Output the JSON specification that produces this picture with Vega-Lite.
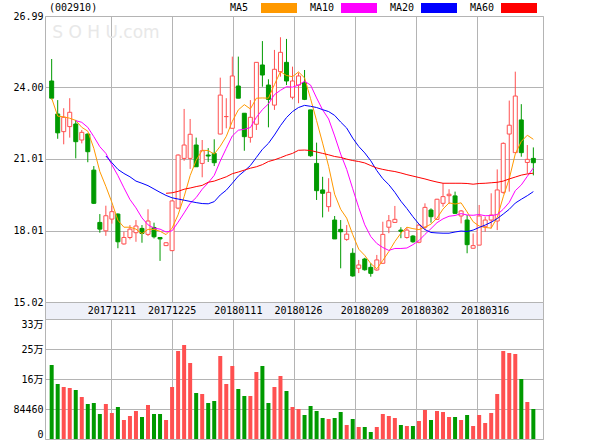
{
  "$schema": "https://vega.github.io/schema/vega-lite/v6.json",
  "background": "#ffffff",
  "padding": {"left": 4, "top": 2, "right": 0, "bottom": 0},
  "spacing": 0,
  "bounds": "flush",
  "resolve": {"scale": {"x": "shared", "y": "independent"}},
  "config": {
    "font": "DejaVu Sans Mono",
    "view": {"stroke": "#b4b4b4", "strokeWidth": 1},
    "axis": {"labelFont": "DejaVu Sans Mono, Noto Sans CJK SC", "labelFontSize": 10, "labelColor": "#000000", "gridColor": "#b4b4b4", "gridOpacity": 1, "gridWidth": 1, "domain": false, "ticks": false, "tickSize": 0}
  },
  "data": {"values": [
{"i":0,"o":24.27,"h":25.19,"l":23.5,"c":23.55,"v":208310,"MA5":23.55},
{"i":1,"o":22.89,"h":23.47,"l":21.85,"c":22.1,"v":154825,"MA5":22.8},
{"i":2,"o":22.15,"h":23.13,"l":21.62,"c":22.75,"v":146380,"MA5":22.77},
{"i":3,"o":22.36,"h":23.55,"l":21.9,"c":22.96,"v":143565,"MA5":22.71},
{"i":4,"o":22.47,"h":22.64,"l":21.03,"c":21.73,"v":137935,"MA5":22.62,"MA10":22.61},
{"i":5,"o":21.8,"h":22.22,"l":21.66,"c":22.12,"v":118230,"MA5":22.33,"MA10":22.54},
{"i":6,"o":22.05,"h":22.07,"l":20.87,"c":21.31,"v":98525,"MA5":22.17,"MA10":22.33},
{"i":7,"o":20.54,"h":20.71,"l":19.12,"c":19.15,"v":101340,"MA5":21.45,"MA10":21.94},
{"i":8,"o":18.35,"h":18.7,"l":17.92,"c":18.07,"v":70375,"MA5":20.48,"MA10":21.52},
{"i":9,"o":18.0,"h":19.05,"l":17.79,"c":18.63,"v":98525,"MA5":19.86,"MA10":21.24,"MA20":21.13},
{"i":10,"o":18.49,"h":19.05,"l":18.3,"c":18.8,"v":73190,"MA5":19.19,"MA10":20.76,"MA20":20.85,"d":"20171211"},
{"i":11,"o":18.7,"h":18.73,"l":17.27,"c":17.54,"v":90080,"MA5":18.44,"MA10":20.31,"MA20":20.57},
{"i":12,"o":17.45,"h":17.96,"l":17.42,"c":17.72,"v":53485,"MA5":18.15,"MA10":19.8,"MA20":20.4},
{"i":13,"o":17.72,"h":18.24,"l":17.64,"c":18.07,"v":64745,"MA5":18.15,"MA10":19.31,"MA20":20.26},
{"i":14,"o":17.92,"h":18.45,"l":17.54,"c":18.2,"v":78820,"MA5":18.07,"MA10":18.96,"MA20":20.08},
{"i":15,"o":18.1,"h":18.24,"l":17.5,"c":17.89,"v":61930,"MA5":17.88,"MA10":18.54,"MA20":19.99},
{"i":16,"o":17.85,"h":18.9,"l":17.78,"c":18.41,"v":95710,"MA5":18.06,"MA10":18.25,"MA20":19.89},
{"i":17,"o":18.14,"h":18.34,"l":17.68,"c":17.75,"v":70375,"MA5":18.06,"MA10":18.11,"MA20":19.75},
{"i":18,"o":17.72,"h":17.74,"l":16.74,"c":17.66,"v":70375,"MA5":17.98,"MA10":18.07,"MA20":19.61},
{"i":19,"o":17.38,"h":17.52,"l":17.36,"c":17.5,"v":53485,"MA5":17.84,"MA10":17.95,"MA20":19.48,"MA60":19.57},
{"i":20,"o":17.17,"h":19.27,"l":17.15,"c":19.25,"v":146380,"MA5":18.11,"MA10":18.0,"MA20":19.38,"MA60":19.59,"d":"20171225"},
{"i":21,"o":18.95,"h":21.2,"l":18.9,"c":21.17,"v":247720,"MA5":18.67,"MA10":18.36,"MA20":19.33,"MA60":19.65},
{"i":22,"o":21.03,"h":23.1,"l":20.93,"c":21.59,"v":264610,"MA5":19.43,"MA10":18.75,"MA20":19.28,"MA60":19.74},
{"i":23,"o":21.03,"h":22.68,"l":20.59,"c":22.04,"v":213940,"MA5":20.31,"MA10":19.15,"MA20":19.23,"MA60":19.79},
{"i":24,"o":21.59,"h":21.9,"l":20.68,"c":20.68,"v":129490,"MA5":20.95,"MA10":19.39,"MA20":19.18,"MA60":19.85},
{"i":25,"o":20.82,"h":21.8,"l":20.24,"c":21.35,"v":126675,"MA5":21.37,"MA10":19.74,"MA20":19.14,"MA60":19.9},
{"i":26,"o":21.17,"h":21.46,"l":20.88,"c":21.13,"v":101340,"MA5":21.36,"MA10":20.01,"MA20":19.13,"MA60":20.03},
{"i":27,"o":21.24,"h":21.83,"l":20.71,"c":20.85,"v":106970,"MA5":21.21,"MA10":20.32,"MA20":19.22,"MA60":20.08},
{"i":28,"o":22.05,"h":24.41,"l":22.04,"c":23.68,"v":233645,"MA5":21.54,"MA10":20.92,"MA20":19.5,"MA60":20.17},
{"i":29,"o":22.78,"h":23.55,"l":22.29,"c":22.78,"v":154825,"MA5":21.95,"MA10":21.45,"MA20":19.7,"MA60":20.26},
{"i":30,"o":22.29,"h":25.29,"l":22.29,"c":24.48,"v":205495,"MA5":22.58,"MA10":21.97,"MA20":19.99,"MA60":20.39},
{"i":31,"o":24.06,"h":25.29,"l":23.55,"c":23.55,"v":140750,"MA5":23.06,"MA10":22.21,"MA20":20.29,"MA60":20.46,"d":"20180111"},
{"i":32,"o":22.92,"h":22.92,"l":21.35,"c":21.94,"v":121045,"MA5":23.28,"MA10":22.25,"MA20":20.5,"MA60":20.54},
{"i":33,"o":21.91,"h":23.47,"l":21.69,"c":22.75,"v":121045,"MA5":23.1,"MA10":22.32,"MA20":20.73,"MA60":20.62},
{"i":34,"o":22.46,"h":25.05,"l":22.22,"c":25.05,"v":188605,"MA5":23.55,"MA10":22.75,"MA20":21.07,"MA60":20.68},
{"i":35,"o":24.94,"h":25.94,"l":24.03,"c":24.52,"v":205495,"MA5":23.56,"MA10":23.07,"MA20":21.41,"MA60":20.77},
{"i":36,"o":24.1,"h":24.34,"l":22.33,"c":23.5,"v":101340,"MA5":23.55,"MA10":23.31,"MA20":21.66,"MA60":20.9},
{"i":37,"o":23.26,"h":25.57,"l":23.06,"c":24.76,"v":146380,"MA5":24.12,"MA10":23.7,"MA20":22.01,"MA60":20.97},
{"i":38,"o":24.66,"h":26.1,"l":24.45,"c":25.47,"v":177345,"MA5":24.66,"MA10":23.88,"MA20":22.4,"MA60":21.06},
{"i":39,"o":25.05,"h":26.03,"l":24.1,"c":24.27,"v":135120,"MA5":24.5,"MA10":24.03,"MA20":22.74,"MA60":21.16},
{"i":40,"o":23.59,"h":24.87,"l":23.5,"c":24.27,"v":90080,"MA5":24.45,"MA10":24.01,"MA20":22.99,"MA60":21.24},
{"i":41,"o":24.1,"h":24.62,"l":23.34,"c":24.48,"v":84450,"MA5":24.65,"MA10":24.1,"MA20":23.16,"MA60":21.37,"d":"20180126"},
{"i":42,"o":24.2,"h":24.73,"l":23.47,"c":23.5,"v":67560,"MA5":24.4,"MA10":24.26,"MA20":23.25,"MA60":21.38},
{"i":43,"o":23.06,"h":23.06,"l":21.1,"c":21.14,"v":92895,"MA5":23.53,"MA10":24.1,"MA20":23.21,"MA60":21.36},
{"i":44,"o":20.82,"h":21.69,"l":19.29,"c":19.68,"v":78820,"MA5":22.61,"MA10":23.56,"MA20":23.16,"MA60":21.3},
{"i":45,"o":19.71,"h":20.26,"l":18.56,"c":19.57,"v":59115,"MA5":21.67,"MA10":23.06,"MA20":23.07,"MA60":21.24},
{"i":46,"o":19.01,"h":20.2,"l":18.8,"c":19.61,"v":56300,"MA5":20.7,"MA10":22.68,"MA20":22.99,"MA60":21.18},
{"i":47,"o":18.45,"h":18.62,"l":17.66,"c":17.66,"v":59115,"MA5":19.53,"MA10":21.97,"MA20":22.83,"MA60":21.11},
{"i":48,"o":18.06,"h":18.45,"l":16.43,"c":17.96,"v":76005,"MA5":18.9,"MA10":21.21,"MA20":22.55,"MA60":21.07},
{"i":49,"o":17.64,"h":18.24,"l":17.58,"c":17.86,"v":39410,"MA5":18.53,"MA10":20.57,"MA20":22.3,"MA60":21.0},
{"i":50,"o":17.06,"h":17.27,"l":16.08,"c":16.11,"v":56300,"MA5":17.84,"MA10":19.76,"MA20":21.88,"MA60":20.94},
{"i":51,"o":16.43,"h":16.78,"l":16.23,"c":16.57,"v":33780,"MA5":17.23,"MA10":18.97,"MA20":21.53,"MA60":20.9},
{"i":52,"o":16.82,"h":16.87,"l":16.33,"c":16.37,"v":33780,"MA5":16.97,"MA10":18.25,"MA20":21.26,"MA60":20.84,"d":"20180209"},
{"i":53,"o":16.47,"h":16.64,"l":16.08,"c":16.22,"v":19705,"MA5":16.63,"MA10":17.76,"MA20":20.93,"MA60":20.73},
{"i":54,"o":16.36,"h":16.99,"l":16.33,"c":16.78,"v":33780,"MA5":16.41,"MA10":17.47,"MA20":20.52,"MA60":20.63},
{"i":55,"o":16.64,"h":18.38,"l":16.63,"c":17.85,"v":70375,"MA5":16.76,"MA10":17.3,"MA20":20.18,"MA60":20.57},
{"i":56,"o":18.15,"h":18.66,"l":17.9,"c":18.42,"v":64745,"MA5":17.13,"MA10":17.18,"MA20":19.93,"MA60":20.52},
{"i":57,"o":18.35,"h":19.04,"l":18.34,"c":18.48,"v":59115,"MA5":17.55,"MA10":17.26,"MA20":19.61,"MA60":20.48},
{"i":58,"o":18.03,"h":18.15,"l":17.69,"c":17.98,"v":39410,"MA5":17.9,"MA10":17.26,"MA20":19.24,"MA60":20.42},
{"i":59,"o":17.72,"h":18.15,"l":17.67,"c":18.03,"v":36595,"MA5":18.15,"MA10":17.28,"MA20":18.93,"MA60":20.35},
{"i":60,"o":17.78,"h":17.82,"l":17.5,"c":17.54,"v":36595,"MA5":18.09,"MA10":17.42,"MA20":18.59,"MA60":20.29},
{"i":61,"o":17.52,"h":18.28,"l":17.48,"c":18.24,"v":50670,"MA5":18.05,"MA10":17.59,"MA20":18.28,"MA60":20.23},
{"i":62,"o":18.15,"h":19.15,"l":18.03,"c":18.98,"v":81635,"MA5":18.15,"MA10":17.85,"MA20":18.05,"MA60":20.17,"d":"20180302"},
{"i":63,"o":18.87,"h":18.94,"l":18.34,"c":18.59,"v":53485,"MA5":18.28,"MA10":18.09,"MA20":17.93,"MA60":20.1},
{"i":64,"o":18.48,"h":19.34,"l":18.46,"c":19.32,"v":78820,"MA5":18.53,"MA10":18.34,"MA20":17.91,"MA60":20.04},
{"i":65,"o":19.15,"h":19.99,"l":19.01,"c":19.43,"v":76005,"MA5":18.91,"MA10":18.5,"MA20":17.9,"MA60":19.99},
{"i":66,"o":19.47,"h":19.74,"l":19.12,"c":19.53,"v":61930,"MA5":19.17,"MA10":18.61,"MA20":17.9,"MA60":19.99},
{"i":67,"o":19.46,"h":19.64,"l":18.7,"c":18.73,"v":61930,"MA5":19.12,"MA10":18.64,"MA20":17.95,"MA60":19.99},
{"i":68,"o":18.62,"h":18.87,"l":18.31,"c":18.83,"v":53485,"MA5":19.17,"MA10":18.72,"MA20":17.99,"MA60":19.99},
{"i":69,"o":18.45,"h":18.66,"l":17.06,"c":17.42,"v":67560,"MA5":18.79,"MA10":18.66,"MA20":17.97,"MA60":19.98},
{"i":70,"o":17.27,"h":17.89,"l":17.26,"c":17.38,"v":36595,"MA5":18.38,"MA10":18.65,"MA20":18.03,"MA60":19.95},
{"i":71,"o":17.4,"h":19.08,"l":17.4,"c":18.62,"v":67560,"MA5":18.2,"MA10":18.68,"MA20":18.14,"MA60":19.98},
{"i":72,"o":18.17,"h":18.59,"l":17.96,"c":18.45,"v":45040,"MA5":18.14,"MA10":18.63,"MA20":18.24,"MA60":19.99,"d":"20180316"},
{"i":73,"o":18.45,"h":19.57,"l":18.1,"c":18.66,"v":73190,"MA5":18.11,"MA10":18.64,"MA20":18.36,"MA60":20.01},
{"i":74,"o":18.41,"h":20.57,"l":18.03,"c":19.71,"v":126675,"MA5":18.56,"MA10":18.68,"MA20":18.51,"MA60":20.03},
{"i":75,"o":19.61,"h":21.7,"l":19.55,"c":21.66,"v":247720,"MA5":19.42,"MA10":18.9,"MA20":18.7,"MA60":20.08},
{"i":76,"o":22.05,"h":23.45,"l":19.64,"c":22.42,"v":242090,"MA5":20.18,"MA10":19.19,"MA20":18.9,"MA60":20.17},
{"i":77,"o":21.27,"h":24.66,"l":21.26,"c":23.64,"v":239275,"MA5":21.22,"MA10":19.68,"MA20":19.16,"MA60":20.25},
{"i":78,"o":22.64,"h":23.3,"l":21.1,"c":21.27,"v":168900,"MA5":21.74,"MA10":19.92,"MA20":19.32,"MA60":20.33},
{"i":79,"o":20.86,"h":21.59,"l":20.4,"c":20.99,"v":104155,"MA5":22.0,"MA10":20.28,"MA20":19.47,"MA60":20.38},
{"i":80,"o":21.03,"h":21.49,"l":20.32,"c":20.85,"v":84450,"MA5":21.83,"MA10":20.63,"MA20":19.64,"MA60":20.41}
  ]},
  "vconcat": [
    {
      "width": 498,
      "height": 286,
      "title": {"text": "(002910)", "anchor": "start", "frame": "group", "font": "DejaVu Sans Mono", "fontSize": 10, "fontWeight": "normal", "color": "#000000", "offset": -2, "dx": 4},
      "layer": [
        {
          "mark": {"type": "rule", "strokeWidth": 1},
          "encoding": {
            "x": {"field": "i", "type": "quantitative", "scale": {"domain": [-0.277, 80.773], "nice": false, "zero": false},
                  "axis": {"values": [9.855, 19.987, 30.118, 40.25, 50.381, 60.512, 70.643], "grid": true, "labels": false, "ticks": false, "domain": false, "title": null}},
            "y": {"field": "l", "type": "quantitative", "scale": {"domain": [15.02, 26.99], "nice": false, "zero": false},
                  "axis": {"values": [15.02, 16.52, 18.01, 19.51, 21.01, 22.5, 24.0, 25.49, 26.99], "format": ".2f", "grid": true, "labelPadding": 2, "labelFlush": false, "minExtent": 40, "maxExtent": 40, "title": null}},
            "y2": {"field": "h"},
            "color": {"condition": {"test": "datum.c >= datum.o", "value": "#ff5050"}, "value": "#009a00"}
          }
        },
        {
          "mark": {"type": "bar", "size": 4, "strokeWidth": 1},
          "encoding": {
            "x": {"field": "i", "type": "quantitative"},
            "y": {"field": "o", "type": "quantitative"},
            "y2": {"field": "c"},
            "fill": {"condition": {"test": "datum.c >= datum.o", "value": "#ffffff"}, "value": "#009a00"},
            "stroke": {"condition": {"test": "datum.c >= datum.o", "value": "#ff5050"}, "value": "#009a00"}
          }
        },
        {
          "transform": [{"fold": ["MA5", "MA10", "MA20", "MA60"], "as": ["k", "val"]}, {"filter": "isValid(datum.val)"}],
          "mark": {"type": "line", "strokeWidth": 1},
          "encoding": {
            "x": {"field": "i", "type": "quantitative"},
            "y": {"field": "val", "type": "quantitative"},
            "stroke": {"field": "k", "type": "nominal",
                      "scale": {"domain": ["MA60", "MA20", "MA10", "MA5"], "range": ["#ff0000", "#0000ff", "#ff00ff", "#ff9900"]},
                      "legend": null}
          }
        },
        {
          "transform": [{"fold": ["MA5", "MA10", "MA20", "MA60"], "as": ["k", "val"]}, {"filter": "false"}],
          "mark": {"type": "square"},
          "encoding": {
            "x": {"field": "i", "type": "quantitative"},
            "y": {"field": "val", "type": "quantitative"},
            "fill": {"field": "k", "type": "nominal",
                      "scale": {"domain": ["MA5", "MA10", "MA20", "MA60"], "range": ["#ff9900", "#ff00ff", "#0000ff", "#ff0000"]},
                      "legend": {"orient": "none", "legendX": 185, "legendY": -13, "direction": "horizontal", "title": null, "padding": 0,
                                 "symbolType": "M5.2,-1H12.4V1H5.2Z", "symbolSize": 100, "symbolStrokeWidth": 0, "symbolOpacity": 1,
                                 "labelOffset": -10, "labelFont": "DejaVu Sans Mono", "labelFontSize": 10, "labelColor": "#000000",
                                 "columnPadding": 13}}
          }
        },
        {
          "data": {"values": [{"t": "S O H U.com"}]},
          "mark": {"type": "text", "align": "left", "baseline": "middle", "font": "DejaVu Sans", "fontSize": 17, "color": "#e8e8e8"},
          "encoding": {
            "x": {"datum": 0.1, "type": "quantitative"},
            "y": {"datum": 26.26, "type": "quantitative"},
            "text": {"field": "t"}
          }
        }
      ]
    },
    {
      "width": 498,
      "height": 17,
      "view": {"fill": "#eef0f8", "stroke": "#b4b4b4"},
      "transform": [{"filter": "isValid(datum.d)"}],
      "mark": {"type": "text", "font": "DejaVu Sans Mono", "fontSize": 10, "color": "#000000", "baseline": "middle"},
      "encoding": {
        "x": {"field": "i", "type": "quantitative", "scale": {"domain": [-0.277, 80.773], "nice": false, "zero": false}, "axis": null},
        "text": {"field": "d"}
      }
    },
    {
      "width": 498,
      "height": 120,
      "mark": {"type": "bar", "size": 4},
      "encoding": {
        "x": {"field": "i", "type": "quantitative", "scale": {"domain": [-0.277, 80.773], "nice": false, "zero": false},
              "axis": {"values": [9.855, 19.987, 30.118, 40.25, 50.381, 60.512, 70.643], "grid": true, "labels": false, "ticks": false, "domain": false, "title": null}},
        "y": {"field": "v", "type": "quantitative", "scale": {"domain": [0, 337840], "nice": false},
              "axis": {"values": [0, 84460, 168920, 253380, 337840], "labelExpr": "datum.value == 0 ? '0' : (datum.value < 100000 ? format(datum.value, 'd') : floor(datum.value / 10000) + '万')", "labelFlush": true, "grid": true, "labelPadding": 2, "minExtent": 40, "maxExtent": 40, "title": null}},
        "color": {"condition": {"test": "datum.c >= datum.o", "value": "#ff5050"}, "value": "#009a00"}
      }
    }
  ]
}
